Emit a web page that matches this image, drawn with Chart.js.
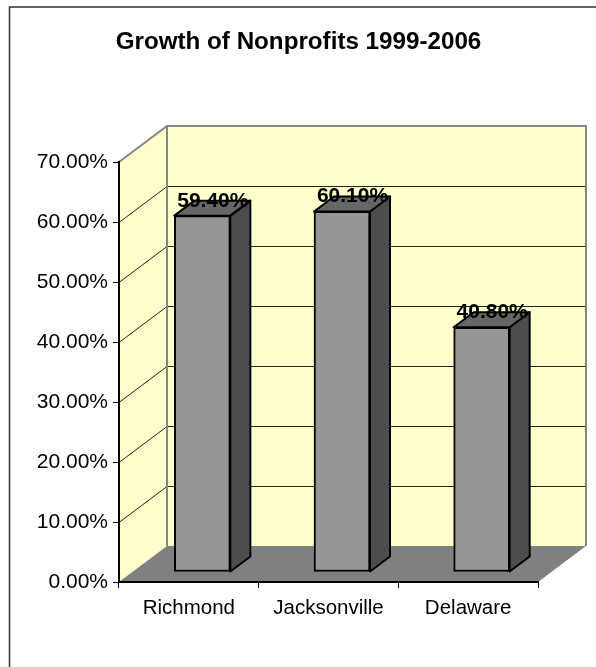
<!DOCTYPE html>
<html>
<head>
<meta charset="utf-8">
<title>Growth of Nonprofits 1999-2006</title>
<script src="https://cdn.jsdelivr.net/npm/chart.js@4"></script>
<style>
html, body { margin: 0; padding: 0; background: #fff; }
#wrap { position: relative; width: 596px; height: 667px; }
</style>
</head>
<body>
<div id="wrap"><canvas id="chart" width="596" height="667"></canvas></div>
<script>
var categories = ["Richmond", "Jacksonville", "Delaware"];
var growth = [59.4, 60.1, 40.8];
var yTicks = [0, 10, 20, 30, 40, 50, 60, 70];

// how far the 3d box is pushed back from the axis plane
var wallDx = 48, wallDy = -36;
var barDx = 13.5, barDy = -10;
var sideDx = 20, sideDy = -15;

var FONT = '"Liberation Sans", Arial, sans-serif';

function poly(ctx, pts, fill, stroke, lw) {
	ctx.beginPath();
	ctx.moveTo(pts[0][0], pts[0][1]);
	for (var i = 1; i < pts.length; i++) {
		ctx.lineTo(pts[i][0], pts[i][1]);
	}
	ctx.closePath();
	if (fill) {
		ctx.fillStyle = fill;
		ctx.fill();
	}
	if (stroke) {
		ctx.strokeStyle = stroke;
		ctx.lineWidth = lw;
		ctx.lineJoin = "round";
		ctx.stroke();
	}
}

var box3d = {
	id: "box3d",
	// title is centred on the whole canvas, not on the padded part
	afterLayout: function(chart) {
		chart.titleBlock.left = 59;
	},
	// frame, walls and floor go under the axes
	beforeDraw: function(chart) {
		var ctx = chart.ctx, a = chart.chartArea;
		var y = chart.scales.y;
		var l = a.left, r = a.right, t = a.top, b = a.bottom;

		ctx.save();
		ctx.strokeStyle = "#333";
		ctx.lineWidth = 1.5;
		ctx.beginPath();
		ctx.moveTo(9.5, 667);
		ctx.lineTo(9.5, 7);
		ctx.lineTo(596, 7);
		ctx.stroke();

		poly(ctx, [[l, t], [l + wallDx, t + wallDy], [l + wallDx, b + wallDy], [l, b]], "#FFFFCC");
		poly(ctx, [[l + wallDx, t + wallDy], [r + wallDx, t + wallDy], [r + wallDx, b + wallDy], [l + wallDx, b + wallDy]], "#FFFFCC");
		poly(ctx, [[l, b], [l + wallDx, b + wallDy], [r + wallDx, b + wallDy], [r, b]], "#808080");

		ctx.strokeStyle = "#222";
		ctx.lineWidth = 1;
		yTicks.forEach(function(v) {
			if (v == 0 || v == 70) return;
			var py = Math.round(y.getPixelForValue(v));
			ctx.beginPath();
			ctx.moveTo(l, py + 0.5);
			ctx.lineTo(l + wallDx, py + wallDy + 0.5);
			ctx.lineTo(r + wallDx, py + wallDy + 0.5);
			ctx.stroke();
		});

		// grey edges of the walls
		ctx.strokeStyle = "#868686";
		ctx.lineWidth = 2;
		ctx.beginPath();
		ctx.moveTo(l, t);
		ctx.lineTo(l + wallDx, t + wallDy);
		ctx.lineTo(r + wallDx, t + wallDy);
		ctx.lineTo(r + wallDx, b + wallDy);
		ctx.moveTo(l + wallDx, t + wallDy);
		ctx.lineTo(l + wallDx, b + wallDy);
		ctx.stroke();
		ctx.restore();
	},
	// side and top of each bar, the front is the library's own bar
	beforeDatasetDraw: function(chart, args) {
		var ctx = chart.ctx;
		ctx.save();
		ctx.translate(barDx, barDy);
		args.meta.data.forEach(function(bar) {
			var x0 = bar.x - bar.width / 2, x1 = bar.x + bar.width / 2;
			poly(ctx, [[x1, bar.y], [x1 + sideDx, bar.y + sideDy], [x1 + sideDx, bar.base + sideDy], [x1, bar.base]], "#4D4D4D", "#000", 2);
			poly(ctx, [[x0, bar.y], [x0 + sideDx, bar.y + sideDy], [x1 + sideDx, bar.y + sideDy], [x1, bar.y]], "#666666", "#000", 2);
		});
	},
	afterDatasetDraw: function(chart) {
		chart.ctx.restore();
	},
	afterDatasetsDraw: function(chart) {
		var ctx = chart.ctx;
		var meta = chart.getDatasetMeta(0);
		ctx.save();
		ctx.font = "bold 21px " + FONT;
		ctx.fillStyle = "#000";
		ctx.textAlign = "center";
		ctx.textBaseline = "alphabetic";
		meta.data.forEach(function(bar, i) {
			ctx.fillText(growth[i].toFixed(2) + "%", bar.x + barDx + 10.5, bar.y + barDy - 9);
		});
		ctx.restore();
	}
};

var ctx = document.getElementById("chart");

var data = {
	labels: categories,
	datasets: [{
		label: "Growth",
		data: growth,
		backgroundColor: "#969696",
		borderColor: "#000",
		borderWidth: 2,
		borderSkipped: false,
		barThickness: 56,
		clip: false
	}]
};

var options = {
	responsive: false,
	animation: false,
	layout: { padding: { right: 58 } },
	plugins: {
		legend: { display: false },
		tooltip: { enabled: false },
		title: {
			display: true,
			text: "Growth of Nonprofits 1999-2006",
			color: "#000",
			font: { family: FONT, size: 24.2, weight: "bold", lineHeight: 1.2 },
			padding: { top: 28, bottom: 105 }
		}
	},
	scales: {
		x: {
			afterFit: function(scale) { scale.height = 85; },
			grid: { drawOnChartArea: false, color: "#000", tickLength: 6, lineWidth: 1 },
			border: { color: "#000", width: 2 },
			ticks: { color: "#000", font: { family: FONT, size: 20.5 }, padding: 8, maxRotation: 0 }
		},
		y: {
			min: 0,
			max: 70,
			afterFit: function(scale) { scale.width = 119; },
			afterBuildTicks: function(scale) {
				scale.ticks = yTicks.map(function(v) { return { value: v }; });
			},
			grid: { drawOnChartArea: false, color: "#000", tickLength: 6, lineWidth: 1 },
			border: { color: "#000", width: 2 },
			ticks: {
				color: "#000",
				font: { family: FONT, size: 21 },
				padding: 5,
				callback: function(value) { return value.toFixed(2) + "%"; }
			}
		}
	}
};

var chart = new Chart(ctx, {
	type: "bar",
	data: data,
	options: options,
	plugins: [box3d]
});
</script>
</body>
</html>
